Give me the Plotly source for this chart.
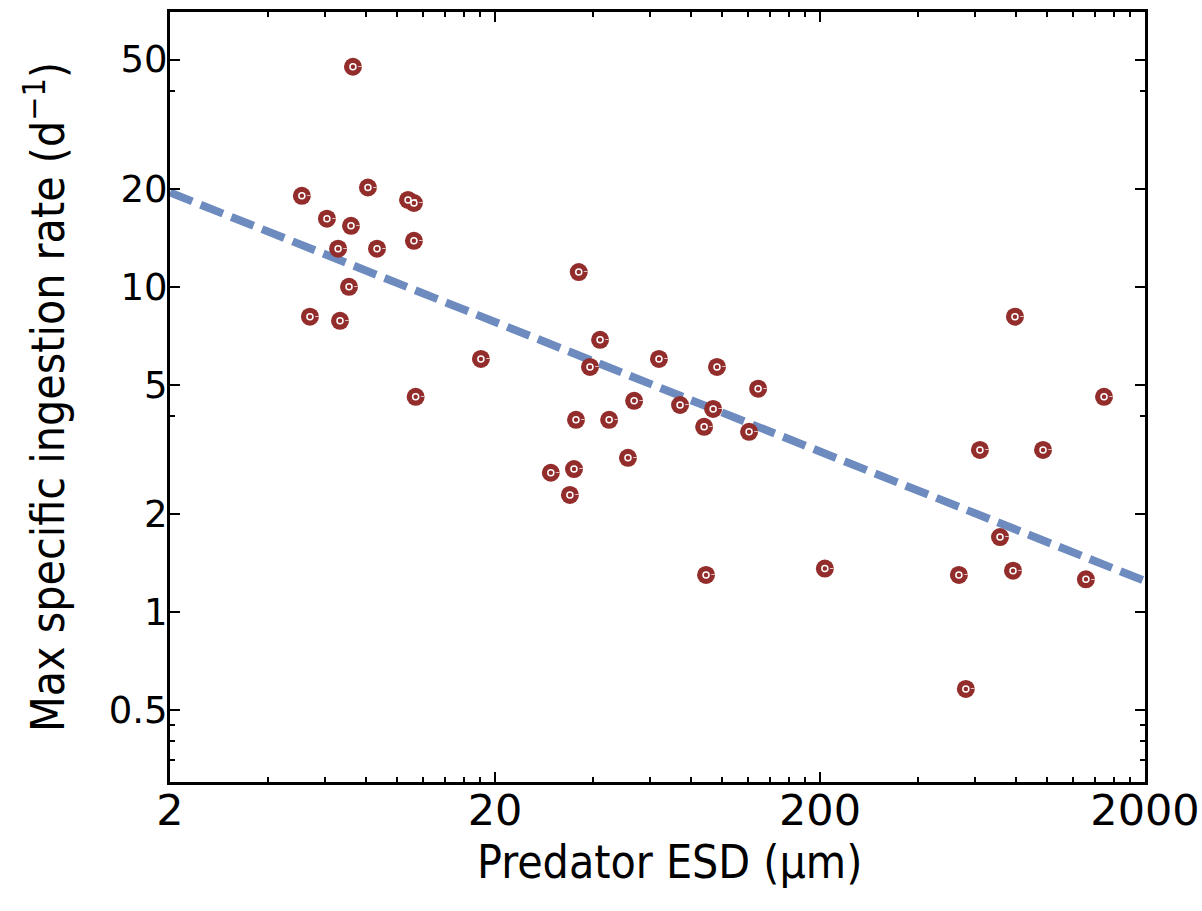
import math
import plotly.graph_objects as go

# Predator ESD (µm) and max specific ingestion rate (d^-1)
esd = [7.31, 5.09, 8.13, 10.8, 11.26, 6.08, 7.21, 6.58, 8.67, 11.26,
       36.2, 7.11, 5.39, 6.67, 18.1, 42.1, 39.2, 63.9, 96.4, 129,
       11.4, 53.6, 74.2, 93.8, 35.5, 44.9, 88, 121, 51.3, 29.7,
       35.0, 34.0, 89.2, 207, 621, 971, 796, 1496, 716, 535,
       785, 1316, 562]
rate = [47.5, 19.05, 20.2, 18.5, 18.1, 16.2, 15.4, 13.1, 13.1, 13.85,
        11.1, 10.0, 8.09, 7.86, 6.0, 6.87, 5.67, 6.0, 5.67, 4.86,
        4.59, 4.46, 4.33, 4.21, 3.90, 3.90, 3.71, 3.58, 2.98, 2.68,
        2.75, 2.29, 1.30, 1.36, 3.15, 3.15, 8.09, 4.59, 1.70, 1.30,
        1.34, 1.26, 0.58]

fit_x = [2, 2000]
fit_y = [19.5, 1.245]

x_ticks = [2, 20, 200, 2000]
x_ticktext = ["2", "20", "200", "2000"]
x_minor = [4, 6, 8, 10, 12, 14, 16, 18, 40, 60, 80, 100, 120, 140, 160, 180,
           400, 600, 800, 1000, 1200, 1400, 1600, 1800]
y_ticks = [0.5, 1, 2, 5, 10, 20, 50]
y_ticktext = ["0.5", "1", "2", "5", "10", "20", "50"]
y_minor = [0.35, 0.4, 0.45, 4, 40]

red = "#922d2b"
blue = "#6d8bbf"

fig = go.Figure()
fig.add_trace(go.Scatter(x=fit_x, y=fit_y, mode="lines",
                         line=dict(color=blue, width=8, dash="24px,9px"),
                         showlegend=False, hoverinfo="skip"))
fig.add_trace(go.Scatter(x=esd, y=rate, mode="markers",
                         marker=dict(symbol="circle", size=18, color=red,
                                     line=dict(width=0)),
                         showlegend=False))
fig.add_trace(go.Scatter(x=esd, y=rate, mode="markers+text",
                         marker=dict(symbol="circle-open", size=6,
                                     color="white", line=dict(width=1.5, color="white")),
                         text=["\u2013"] * len(esd), textposition="middle right",
                         textfont=dict(size=9, color="white", family="DejaVu Sans"),
                         showlegend=False, hoverinfo="skip"))

y_tick_font = dict(family="DejaVu Sans", size=37, color="black")
x_tick_font = dict(family="DejaVu Sans", size=43, color="black")
title_font = dict(family="Liberation Sans Narrow, DejaVu Sans Condensed, Roboto, sans-serif",
                  size=46, color="black")

fig.update_layout(
    width=1202, height=911,
    margin=dict(l=170, r=57, t=12, b=129),
    paper_bgcolor="white", plot_bgcolor="white",
    xaxis=dict(type="log", range=[math.log10(2), math.log10(2000)],
               tickmode="array", tickvals=x_ticks, ticktext=x_ticktext,
               ticks="inside", ticklen=10, tickwidth=2, tickcolor="black",
               showline=True, linecolor="black", linewidth=3, mirror="ticks",
               showgrid=False, zeroline=False, tickfont=x_tick_font,
               ticklabelstandoff=-12, ticklabeloverflow="allow", automargin=False,
               minor=dict(tickmode="array", tickvals=x_minor, ticks="inside",
                          ticklen=5, tickwidth=2, tickcolor="black", showgrid=False)),
    yaxis=dict(type="log", range=[math.log10(0.3), math.log10(70)],
               tickmode="array", tickvals=y_ticks, ticktext=y_ticktext,
               ticks="inside", ticklen=10, tickwidth=2, tickcolor="black",
               showline=True, linecolor="black", linewidth=3, mirror="ticks",
               showgrid=False, zeroline=False, tickfont=y_tick_font,
               ticklabelstandoff=-8, automargin=False,
               minor=dict(tickmode="array", tickvals=y_minor, ticks="inside",
                          ticklen=5, tickwidth=2, tickcolor="black", showgrid=False),
               title=dict(text="Max specific ingestion rate (d<sup>\u22121</sup>)",
                          font=title_font, standoff=30)),
    annotations=[dict(text="Predator ESD (\u00b5m)", xref="paper", yref="paper",
                      x=0.512, y=-0.104, xanchor="center", yanchor="middle",
                      showarrow=False, font=title_font)],
)

fig.write_html("out.html")
